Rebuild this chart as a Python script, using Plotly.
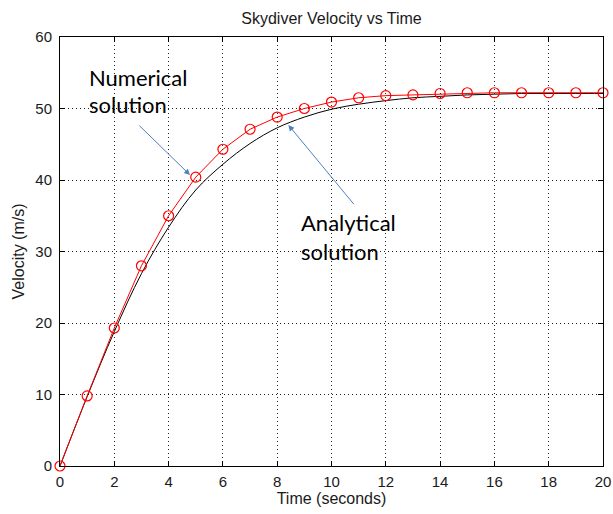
import plotly.graph_objects as go

# ---- data ----
time_s = list(range(0, 21))
numerical_v = [0, 9.8, 19.3, 28.0, 35.0, 40.4, 44.3, 47.1, 48.8, 50.0, 50.9,
               51.5, 51.8, 51.9, 52.1, 52.2, 52.2, 52.2, 52.2, 52.2, 52.2]
analytical_v = [0, 9.7, 18.8, 26.9, 33.4, 38.6, 42.2, 45.1, 47.3, 48.8, 49.9,
                50.6, 51.1, 51.5, 51.7, 51.9, 52.0, 52.1, 52.1, 52.1, 52.1]
x_ticks = [0, 2, 4, 6, 8, 10, 12, 14, 16, 18, 20]
y_ticks = [0, 10, 20, 30, 40, 50, 60]

title_text = "Skydiver Velocity vs Time"
x_label = "Time (seconds)"
y_label = "Velocity (m/s)"

# annotation labels: (text, x, y) in data coordinates
label_lines = [
    ("Numerical", 1.0, 54.3),
    ("solution", 1.0, 50.5),
    ("Analytical", 8.82, 34.1),
    ("solution", 8.82, 30.0),
]
# arrows: (head_x, head_y, tail_x, tail_y) in data coordinates
arrows = [
    (4.79, 40.7, 2.87, 47.8),
    (8.41, 47.7, 10.87, 36.4),
]

MATLAB_FONT = "Liberation Sans, Arial, sans-serif"
NOTE_FONT = "Lato, Carlito, Calibri, sans-serif"

fig = go.Figure()
fig.add_trace(go.Scatter(
    x=time_s, y=analytical_v, mode="lines", line=dict(color="black", width=1, shape="spline"),
    showlegend=False, cliponaxis=False, hoverinfo="skip"))
fig.add_trace(go.Scatter(
    x=time_s, y=numerical_v, mode="lines+markers",
    line=dict(color="#ff0000", width=1),
    marker=dict(symbol="circle-open", size=10, color="#ff0000", line=dict(width=1.2)),
    showlegend=False, cliponaxis=False, hoverinfo="skip"))

annotations = []
for txt, ax_, ay_ in label_lines:
    annotations.append(dict(
        text=txt, x=ax_, y=ay_, xref="x", yref="y", showarrow=False,
        xanchor="left", yanchor="middle", align="left",
        font=dict(family=NOTE_FONT, size=22, color="black")))
for hx, hy, tx, ty in arrows:
    annotations.append(dict(
        text="", x=hx, y=hy, ax=tx, ay=ty, xref="x", yref="y", axref="x", ayref="y",
        showarrow=True, arrowhead=2, arrowsize=1.2, arrowwidth=1, arrowcolor="#4F81BD",
        standoff=0, startstandoff=0))

axis_common = dict(
    showline=True, linecolor="black", linewidth=1, mirror="ticks",
    ticks="inside", ticklen=5, tickcolor="black",
    showgrid=True, gridcolor="#222222", gridwidth=1, griddash="1px,3px",
    zeroline=False, automargin=False,
    tickfont=dict(family=MATLAB_FONT, size=15, color="#1a1a1a"),
)

fig.update_layout(
    width=613, height=514,
    margin=dict(l=60, r=10, t=37, b=48, autoexpand=False),
    paper_bgcolor="white", plot_bgcolor="white",
    title=dict(text=title_text, x=0.5, xref="paper", y=(514 - 18) / 514, yref="container",
               xanchor="center", yanchor="middle", automargin=False,
               font=dict(family=MATLAB_FONT, size=16, color="#1a1a1a")),
    xaxis=dict(range=[0, 20], tickvals=x_ticks, ticktext=[str(v) for v in x_ticks],
               title=dict(text=x_label, standoff=2,
                          font=dict(family=MATLAB_FONT, size=16, color="#1a1a1a")),
               ticklabelstandoff=2, **axis_common),
    yaxis=dict(range=[0, 60], tickvals=y_ticks, ticktext=[str(v) for v in y_ticks],
               title=dict(text=y_label, standoff=6,
                          font=dict(family=MATLAB_FONT, size=16, color="#1a1a1a")),
               ticklabelstandoff=4, **axis_common),
    annotations=annotations,
)

fig.write_html("out.html", config={"displayModeBar": False, "staticPlot": True},
               post_script="document.body.style.margin='0px';document.body.style.overflow='hidden';")
